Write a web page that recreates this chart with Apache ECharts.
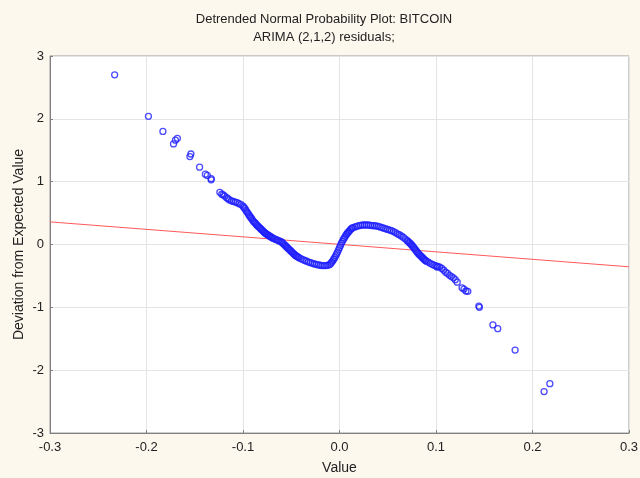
<!DOCTYPE html>
<html><head><meta charset="utf-8">
<script src="https://cdn.jsdelivr.net/npm/echarts@6/dist/echarts.min.js"></script>
<style>html,body{margin:0;padding:0;background:#fdf8ee}#c{width:640px;height:478px}</style>
</head><body><div id="c"></div>
<script>
var titleLines = ['Detrended Normal Probability Plot: BITCOIN', 'ARIMA (2,1,2) residuals;'];
var xTicks = [-0.3, -0.2, -0.1, 0.0, 0.1, 0.2, 0.3];
var yTicks = [-3, -2, -1, 0, 1, 2, 3];
// residual values (x) and deviation from expected (y)
var residX = [
-0.233,-0.198,-0.183,-0.168,-0.170,-0.172,-0.154,-0.155,-0.145,-0.139,-0.137,-0.133,-0.133,
-0.124,-0.122,-0.1205,-0.119,-0.117,-0.1155,-0.114,-0.112,-0.110,-0.108,-0.106,-0.104,-0.102,-0.100,-0.099,-0.098,
-0.097,-0.096,-0.095,-0.094,-0.093,-0.092,-0.091,-0.090,-0.089,-0.088,-0.087,-0.086,-0.085,-0.084,-0.083,-0.082,-0.081,-0.080,
-0.079,-0.078,-0.077,-0.076,-0.075,-0.074,-0.073,-0.072,-0.071,-0.070,-0.069,-0.0675,-0.066,-0.0645,-0.063,-0.0615,-0.060,
-0.059,-0.058,-0.057,-0.056,-0.055,-0.054,-0.053,-0.052,-0.051,-0.050,-0.049,-0.048,-0.047,-0.046,-0.045,-0.044,-0.043,-0.042,
-0.040,-0.038,-0.036,-0.034,-0.032,-0.030,-0.028,-0.026,-0.024,-0.022,-0.020,-0.018,-0.016,-0.014,-0.012,
-0.010,-0.009,-0.008,-0.007,-0.006,-0.005,-0.004,-0.003,-0.002,-0.001,0.000,0.001,0.002,0.003,0.004,0.005,0.006,0.007,0.008,0.009,0.010,
0.011,0.012,0.013,0.014,0.016,0.018,0.020,0.022,0.024,0.026,0.028,0.030,0.032,0.034,0.036,0.038,0.040,0.042,0.044,0.046,0.048,
0.050,0.052,0.054,0.056,0.058,0.060,0.062,0.064,0.066,0.068,0.070,0.071,0.072,0.073,0.074,0.075,0.076,0.077,0.078,0.079,0.080,
0.081,0.082,0.083,0.084,0.085,0.086,0.087,0.088,0.089,0.090,0.092,0.094,0.096,0.098,0.100,0.101,0.102,0.104,0.106,0.108,0.110,
0.112,0.114,0.116,0.118,0.120,0.122,0.127,0.129,0.131,0.133,0.1444,0.145,0.159,0.164,0.182,0.218,0.212
];
var residY = [
2.70,2.04,1.80,1.69,1.66,1.60,1.44,1.40,1.23,1.12,1.10,1.05,1.03,
0.83,0.80,0.79,0.77,0.745,0.73,0.71,0.695,0.685,0.675,0.665,0.65,0.635,0.61,0.59,0.57,
0.545,0.52,0.50,0.475,0.45,0.43,0.41,0.385,0.365,0.35,0.335,0.315,0.30,0.285,0.27,0.255,0.24,0.225,
0.21,0.195,0.18,0.17,0.16,0.15,0.14,0.13,0.12,0.11,0.10,0.09,0.08,0.07,0.06,0.05,0.04,
0.025,0.01,-0.005,-0.02,-0.035,-0.05,-0.065,-0.08,-0.095,-0.11,-0.125,-0.14,-0.155,-0.17,-0.18,-0.19,-0.20,-0.21,
-0.225,-0.24,-0.255,-0.265,-0.28,-0.29,-0.30,-0.31,-0.315,-0.325,-0.33,-0.335,-0.335,-0.335,-0.33,
-0.32,-0.30,-0.28,-0.26,-0.235,-0.21,-0.18,-0.15,-0.12,-0.085,-0.05,-0.015,0.02,0.05,0.08,0.105,0.13,0.155,0.175,0.195,0.21,
0.23,0.25,0.26,0.27,0.28,0.29,0.30,0.305,0.31,0.31,0.31,0.31,0.305,0.30,0.30,0.295,0.29,0.28,0.27,0.26,0.25,
0.24,0.23,0.22,0.205,0.19,0.17,0.155,0.135,0.115,0.09,0.065,0.05,0.035,0.02,0.005,-0.01,-0.03,-0.05,-0.07,-0.09,-0.11,
-0.13,-0.15,-0.165,-0.18,-0.195,-0.21,-0.225,-0.24,-0.255,-0.265,-0.28,-0.30,-0.315,-0.33,-0.34,-0.36,-0.35,-0.36,-0.38,-0.41,-0.44,
-0.46,-0.49,-0.51,-0.53,-0.56,-0.60,-0.69,-0.71,-0.74,-0.745,-0.98,-1.00,-1.28,-1.34,-1.68,-2.215,-2.34
];
var refLineX = [-0.3, 0.3];
var refLineY = [0.36, -0.355];

var pts = residX.map(function (x, i) { return [x, residY[i]]; });
var linePts = refLineX.map(function (x, i) { return [x, refLineY[i]]; });

var chart = echarts.init(document.getElementById('c'), null, {renderer: 'canvas'});
var font = 'Liberation Sans, Arial, sans-serif';
chart.setOption({
  backgroundColor: '#fdf8ee',
  animation: false,
  graphic: [
    {type: 'text', x: 324, y: 19, style: {text: titleLines[0], font: '13px ' + font, fill: '#222', align: 'center', verticalAlign: 'middle', textAlign: 'center', textVerticalAlign: 'middle'}},
    {type: 'text', x: 324, y: 37, style: {text: titleLines[1], font: '13px ' + font, fill: '#222', align: 'center', verticalAlign: 'middle', textAlign: 'center', textVerticalAlign: 'middle'}}
  ],
  grid: {left: 50, right: 11, top: 56, bottom: 45, show: true, containLabel: false, outerBoundsMode: 'none', backgroundColor: '#ffffff', borderColor: '#9a9a9a', borderWidth: 1},
  xAxis: {
    type: 'value', min: -0.3, max: 0.3, interval: 0.1,
    name: 'Value', nameLocation: 'middle', nameGap: 28, nameMoveOverlap: false,
    nameTextStyle: {fontFamily: font, fontSize: 14, color: '#222'},
    axisLine: {show: true, onZero: false, lineStyle: {color: '#808080'}},
    axisTick: {show: true, inside: true, length: 3, lineStyle: {color: '#808080'}},
    axisLabel: {margin: 8, fontFamily: font, fontSize: 13, color: '#222', formatter: function (v) { return v.toFixed(1); }},
    splitLine: {show: true, lineStyle: {color: '#e4e4e4', width: 1}}
  },
  yAxis: {
    type: 'value', min: -3, max: 3, interval: 1,
    name: 'Deviation from Expected Value', nameLocation: 'middle', nameGap: 24, nameMoveOverlap: false,
    nameTextStyle: {fontFamily: font, fontSize: 14, color: '#222'},
    axisLine: {show: true, onZero: false, lineStyle: {color: '#808080'}},
    axisTick: {show: true, inside: true, length: 3, lineStyle: {color: '#808080'}},
    axisLabel: {margin: 6, fontFamily: font, fontSize: 13, color: '#222'},
    splitLine: {show: true, lineStyle: {color: '#e4e4e4', width: 1}}
  },
  series: [
    {type: 'line', data: linePts, symbol: 'none', lineStyle: {color: '#ff5a5a', width: 1}, z: 2, silent: true},
    {type: 'scatter', data: pts, symbol: 'circle', symbolSize: 6,
     itemStyle: {color: 'rgba(0,0,0,0)', borderColor: '#1e1eff', borderWidth: 1.3}, z: 3}
  ]
});
</script></body></html>
